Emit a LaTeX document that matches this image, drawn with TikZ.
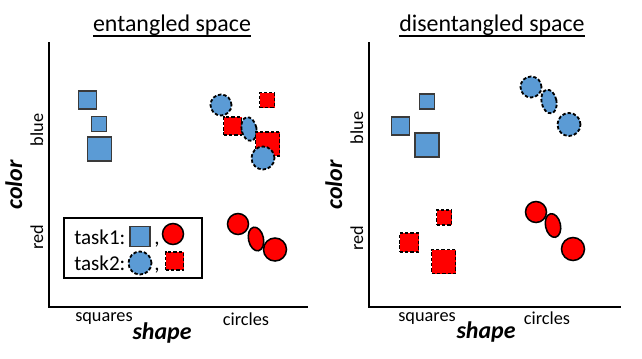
\documentclass[tikz,border=0pt]{standalone}
\usepackage{fontspec}
\setmainfont{Carlito}
\usetikzlibrary{positioning,shapes.geometric}
\definecolor{ink}{HTML}{000000}
\definecolor{edgegray}{HTML}{3A3A3A}
\definecolor{bluef}{HTML}{5B9BD5}
\definecolor{redf}{HTML}{FF0000}
\newcommand{\thickul}[1]{\leavevmode\vtop{\hbox{#1}\kern-0.2pt\hrule height 1.3pt}}

\begin{document}
\begin{tikzpicture}[
  x=0.025cm, y=-0.025cm,
  every node/.style={inner sep=0pt},
  ttl/.style={font=\fontsize{17}{20}\selectfont, anchor=base},
  lbl/.style={font=\fontsize{13}{15}\selectfont, anchor=base},
  leg/.style={font=\fontsize{15}{18}\selectfont, anchor=base west},
  axlbl/.style={font=\fontsize{17}{20}\selectfont\bfseries\itshape, anchor=base},
  axis/.style={line width=1.5pt, draw=ink},
  sqa/.style={rectangle, draw=edgegray, fill=bluef, line width=1.1pt, minimum size=#1*0.025cm},
  sqb/.style={rectangle, draw=ink, dash pattern=on 2.4pt off 1.4pt, fill=redf, line width=1.3pt, minimum size=#1*0.025cm},
  cira/.style={circle, draw=ink, fill=redf, line width=1.1pt, minimum size=#1*0.025cm},
  cirb/.style={circle, draw=ink, dash pattern=on 2.4pt off 1.4pt, fill=bluef, line width=1.3pt, minimum size=#1*0.025cm},
  ella/.style={ellipse, draw=ink, fill=redf, line width=1.1pt, minimum width=15*0.025cm, minimum height=24*0.025cm, rotate=12},
  ellb/.style={ellipse, draw=ink, dash pattern=on 2.4pt off 1.4pt, fill=bluef, line width=1.3pt, minimum width=15*0.025cm, minimum height=24*0.025cm, rotate=12}
]
\useasboundingbox (0,0) rectangle (642,358);

% entangled space (left)
\node[ttl] (titleL) at (172,31) {\thickul{entangled space}};
\coordinate (topL) at (49,42);
\coordinate (origL) at (49,307);
\coordinate (endL) at (308,307);
\draw[axis] (topL) -- (origL) -- (endL);
\node[axlbl, rotate=90] (colorL) at (22,185) {color};
\node[lbl, rotate=90] (blueL) at (43,130) {blue};
\node[lbl, rotate=90] (redL) at (43,237) {red};
\node[lbl] (squaresL) at (104,321) {squares};
\node[lbl] (circlesL) at (246,325) {circles};
\node[axlbl] (shapeL) at (162,339) {shape};

\node[sqa=18] (bsqL1) at (87.5,100) {};
\node[sqa=15] (bsqL2) at (99,124) {};
\node[sqa=24] (bsqL3) at (99.5,149) {};

\node[sqb=15] (rsqL1) at (267,100) {};
\node[cirb=21] (bcL1) at (221,105) {};
\node[sqb=18] (rsqL2) at (232.5,126) {};
\node[ellb] (bcL2) at (249,129) {};
\node[sqb=24] (rsqL3) at (267.5,144) {};
\node[cirb=23] (bcL3) at (263,158) {};

\node[cira=21] (rcL1) at (238,224) {};
\node[ella] (rcL2) at (256,239) {};
\node[cira=23] (rcL3) at (275,249.5) {};

% legend
\node[draw=ink, line width=0.8pt, minimum width=138*0.025cm, minimum height=60*0.025cm] (legend) at (133,248) {};
\node[leg] (task1) at (74,244) {task1:};
\node[leg] (task2) at (74,270) {task2:};
\node[sqa=20] (legsq1) at (140,236.5) {};
\node[leg, anchor=base] (comma1) at (157,244) {,};
\node[cira=21] (legc1) at (173,234) {};
\node[cirb=23] (legc2) at (140,263) {};
\node[leg, anchor=base] (comma2) at (157,270) {,};
\node[sqb=18] (legsq2) at (174.5,261) {};

% disentangled space (right)
\node[ttl] (titleR) at (492,31) {\thickul{disentangled space}};
\coordinate (topR) at (369,42);
\coordinate (origR) at (369,307);
\coordinate (endR) at (621,307);
\draw[axis] (topR) -- (origR) -- (endR);
\node[axlbl, rotate=90] (colorR) at (342,185) {color};
\node[lbl, rotate=90] (blueR) at (363,128) {blue};
\node[lbl, rotate=90] (redR) at (363,238) {red};
\node[lbl] (squaresR) at (427,321) {squares};
\node[lbl] (circlesR) at (547,324) {circles};
\node[axlbl] (shapeR) at (486,338) {shape};

\node[sqa=15] (bsqR1) at (427,101.5) {};
\node[sqa=18] (bsqR2) at (400.5,126) {};
\node[sqa=24] (bsqR3) at (427,145) {};

\node[cirb=21] (bcR1) at (531,87) {};
\node[ellb] (bcR2) at (549,101.5) {};
\node[cirb=23] (bcR3) at (569,124.5) {};

\node[sqb=15] (rsqR1) at (444,217.5) {};
\node[sqb=19] (rsqR2) at (409,242.5) {};
\node[sqb=24] (rsqR3) at (443.5,261.5) {};

\node[cira=21] (rcR1) at (536,212) {};
\node[ella] (rcR2) at (553,225.5) {};
\node[cira=23] (rcR3) at (573,249) {};
\end{tikzpicture}
\end{document}
